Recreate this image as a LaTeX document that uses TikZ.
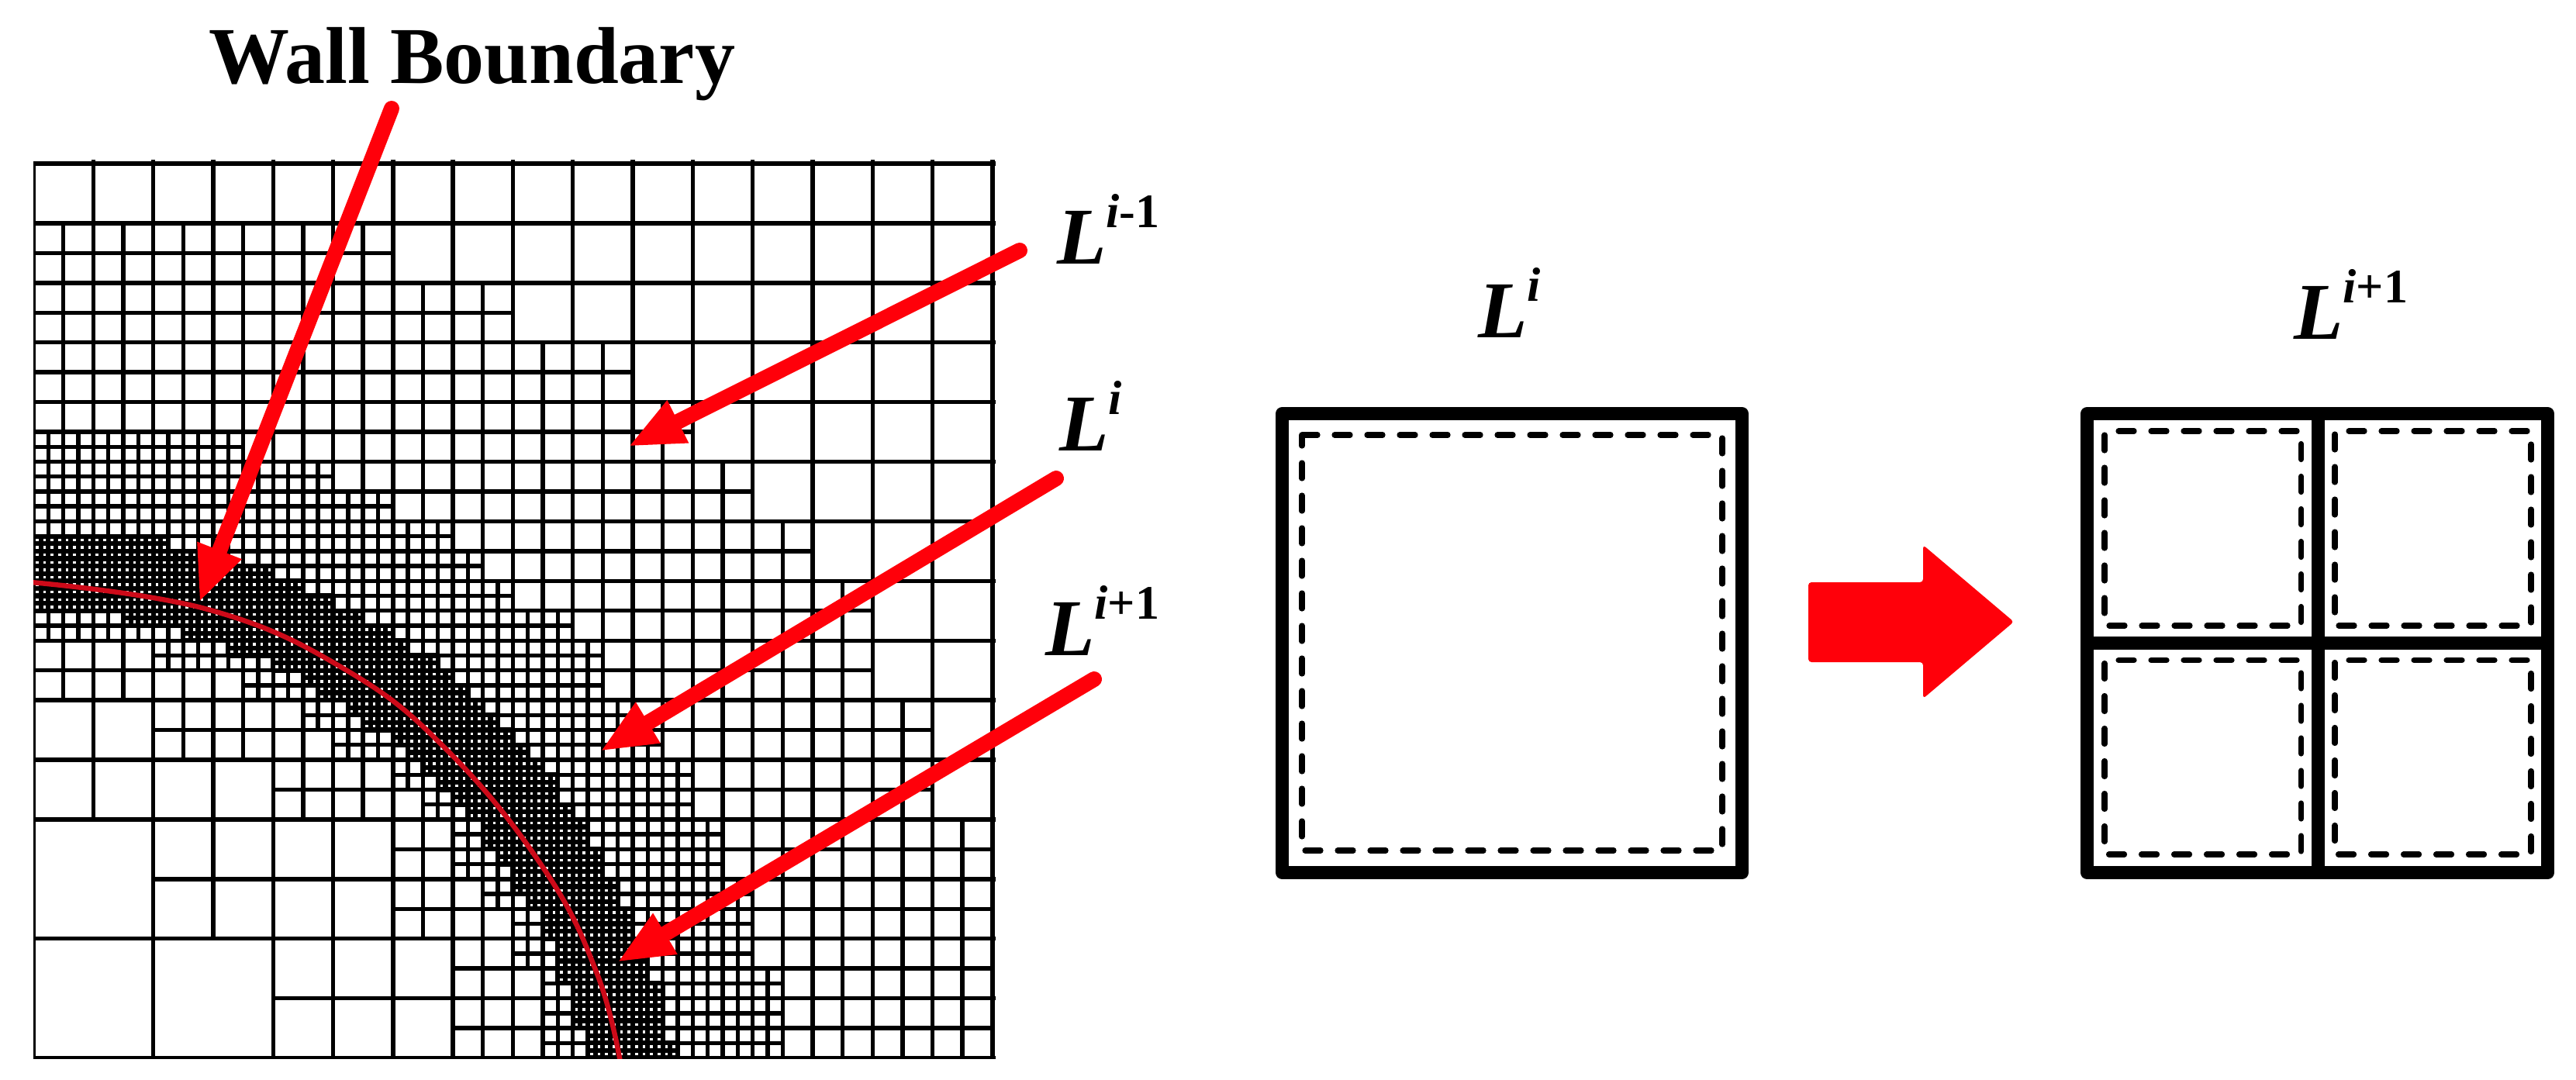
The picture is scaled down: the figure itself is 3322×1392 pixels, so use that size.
\documentclass[tikz,border=0pt]{standalone}
\usepackage{fontspec}
\setmainfont{Liberation Serif}
\usetikzlibrary{arrows.meta}
\definecolor{arrowred}{RGB}{255,0,10}
\definecolor{wallred}{RGB}{205,10,25}
\tikzset{
  meshline/.style={black,line width=2.7pt,line cap=butt},
  fineline/.style={black,line width=3.1pt,line cap=butt},
  wallcurve/.style={wallred,line width=3.2pt},
  redarrow/.style={draw=arrowred,line width=10pt,line cap=round,-{Triangle[length=36pt,width=28pt]}},
  heavybox/.style={black,line width=8.5pt,line join=round},
  dashbox/.style={black,line width=3.6pt,line cap=round,dash pattern=on 10pt off 11pt},
  dashcell/.style={dashbox,dash phase=12pt},
  lbl/.style={inner sep=0pt,outer sep=0pt,anchor=base west,text=black},
}
% cell size, x0, x1, y0, y1 in mesh units
\newcommand{\cellgrid}[6][meshline]{%
  \pgfmathtruncatemacro{\nx}{round((#4-#3)/#2)}%
  \pgfmathtruncatemacro{\ny}{round((#6-#5)/#2)}%
  \draw[#1] \foreach \ii in {0,...,\nx} {({#3+\ii*#2},{#5}) -- ({#3+\ii*#2},{#6})}
            \foreach \jj in {0,...,\ny} {({#3},{#5+\jj*#2}) -- ({#4},{#5+\jj*#2})};%
}
\newcommand{\biglabel}[1]{\fontsize{52pt}{60pt}\selectfont\bfseries #1}
\newcommand{\levL}[1]{{\fontsize{52pt}{60pt}\selectfont\bfseries\itshape L}\raisebox{23.5pt}{\fontsize{31pt}{36pt}\selectfont\bfseries #1}}
\begin{document}
\begin{tikzpicture}[x=0.5pt,y=-0.5pt]
\useasboundingbox (0,0) rectangle (3322,1392);
\fill[white] (0,0) rectangle (3322,1392);

% ---- adaptive mesh ----
\begin{scope}
\clip (43,200) rectangle (1290,1365);
\begin{scope}[shift={(43,211)},x=38.65pt,y=-38.45pt]
  % ticks above the top and beyond the right edge
  \draw[meshline] \foreach \c in {1,...,16} {(\c,-0.06) -- (\c,0)};
  \draw[meshline] \foreach \c in {0,...,15} {(16,\c) -- (16.06,\c)};
  % largest cells
  \cellgrid{2}{0}{4}{13}{15}
  \cellgrid{2}{0}{2}{11}{13}
  % unit cells
  \cellgrid{1}{0}{16}{0}{11}
  \cellgrid{1}{2}{16}{11}{13}
  \cellgrid{1}{4}{16}{13}{15}
  % half cells, one row of unit height each
  \foreach \r/\a/\b in {1/0/6,2/0/8,3/0/10,4/0/11,5/0/12,6/0/13,7/0/14,8/0/14,
      9/2/15,10/4/15,11/6/16,12/6/16,13/7/16,14/7/16}
    {\cellgrid{0.5}{\a}{\b}{\r}{\r+1}}
  % quarter cells, one row of half height each
  \foreach \h/\a/\b in {9/0/3.5,10/0/5,11/0/6,12/0/7,13/0/7.5,14/0/8,15/0/9,
      16/2/9.5,17/3.5/9.5,18/4.5/10,19/5/10.5,20/6/11,21/6.5/11,22/7/11.5,23/7/11.5,
      24/7.5/12,25/8/12,26/8/12,27/8.5/12.5,28/8.5/12.5,29/8.5/12.5}
    {\cellgrid{0.25}{\a}{\b}{\h/2}{\h/2+0.5}}
  % eighth cells, one row of quarter height each
  \foreach \q/\a/\b in {25/0/2.25,26/0/2.75,27/0/4,28/0/4.5,29/0/5,
      30/1.5/5.5,31/2.5/6,32/3.25/6.25,33/4/6.75,34/4.5/7,35/4.75/7.25,36/5.25/7.5,
      37/5.5/7.75,38/6/8,39/6.25/8.25,40/6.5/8.5,41/6.75/8.75,42/7/8.75,43/7.25/9,
      44/7.5/9.25,45/7.5/9.25,46/7.75/9.5,47/8/9.5,48/8/9.75,49/8.25/9.75,50/8.5/10,
      51/8.5/10,52/8.75/10,53/8.75/10.25,54/8.75/10.25,55/9/10.5,56/9/10.5,57/9/10.5,
      58/9.25/10.5,59/9.25/10.75}
    {\cellgrid[fineline]{0.125}{\a}{\b}{\q/4}{\q/4+0.25}}
\end{scope}
% wall boundary curve
\draw[wallcurve] plot[smooth,tension=0.7] coordinates {(40,751) (268,786) (446,864) (580,971) (703,1123) (770,1256) (800,1370)};
\end{scope}

% ---- labels ----
\node[lbl] (wall) at (269,107) {\biglabel{Wall Boundary}};
\node[lbl] (lminus) at (1363,340.5) {\levL{\textit{i}-1}};
\node[lbl] (lmid) at (1366,581.5) {\levL{\textit{i}}};
\node[lbl] (lplus) at (1348,845) {\levL{\textit{i}+1}};
\node[lbl] (rleft) at (1906,435) {\levL{\textit{i}}};
\node[lbl] (rright) at (2958,437) {\levL{\textit{i}+1}};

% ---- pointers ----
\coordinate (wa) at (505,140);  \coordinate (wb) at (257,777);
\coordinate (ma) at (1315,323); \coordinate (mb) at (810,576);
\coordinate (ia) at (1362,617); \coordinate (ib) at (774,969);
\coordinate (pa) at (1411,876); \coordinate (pb) at (796,1241);
\draw[redarrow] (wa) -- (wb);
\draw[redarrow] (ma) -- (mb);
\draw[redarrow] (ia) -- (ib);
\draw[redarrow] (pa) -- (pb);

% ---- single cell ----
\draw[heavybox] (1653.5,533.5) rectangle (2246.5,1125.5);
\draw[dashbox] (1679,561) -- (2221,561) -- (2221,1097) -- (1679,1097) -- cycle;

% ---- block arrow ----
\fill[arrowred,rounded corners=2pt] (2332,751) -- (2480,751) -- (2480,703) -- (2597,802) -- (2480,901) -- (2480,854) -- (2332,854) -- cycle;

% ---- refined cell ----
\draw[heavybox] (2691.5,533.5) rectangle (3285.5,1125.5);
\draw[heavybox] (2989.5,533.5) -- (2989.5,1125.5);
\draw[heavybox] (2691.5,829.5) -- (3285.5,829.5);
\draw[dashcell] (2714,556) -- (2967.5,556) -- (2967.5,807) -- (2714,807) -- cycle;
\draw[dashcell] (3011,556) -- (3264,556) -- (3264,807) -- (3011,807) -- cycle;
\draw[dashcell] (2714,851.5) -- (2967.5,851.5) -- (2967.5,1102) -- (2714,1102) -- cycle;
\draw[dashcell] (3011,851.5) -- (3264,851.5) -- (3264,1102) -- (3011,1102) -- cycle;
\end{tikzpicture}
\end{document}
